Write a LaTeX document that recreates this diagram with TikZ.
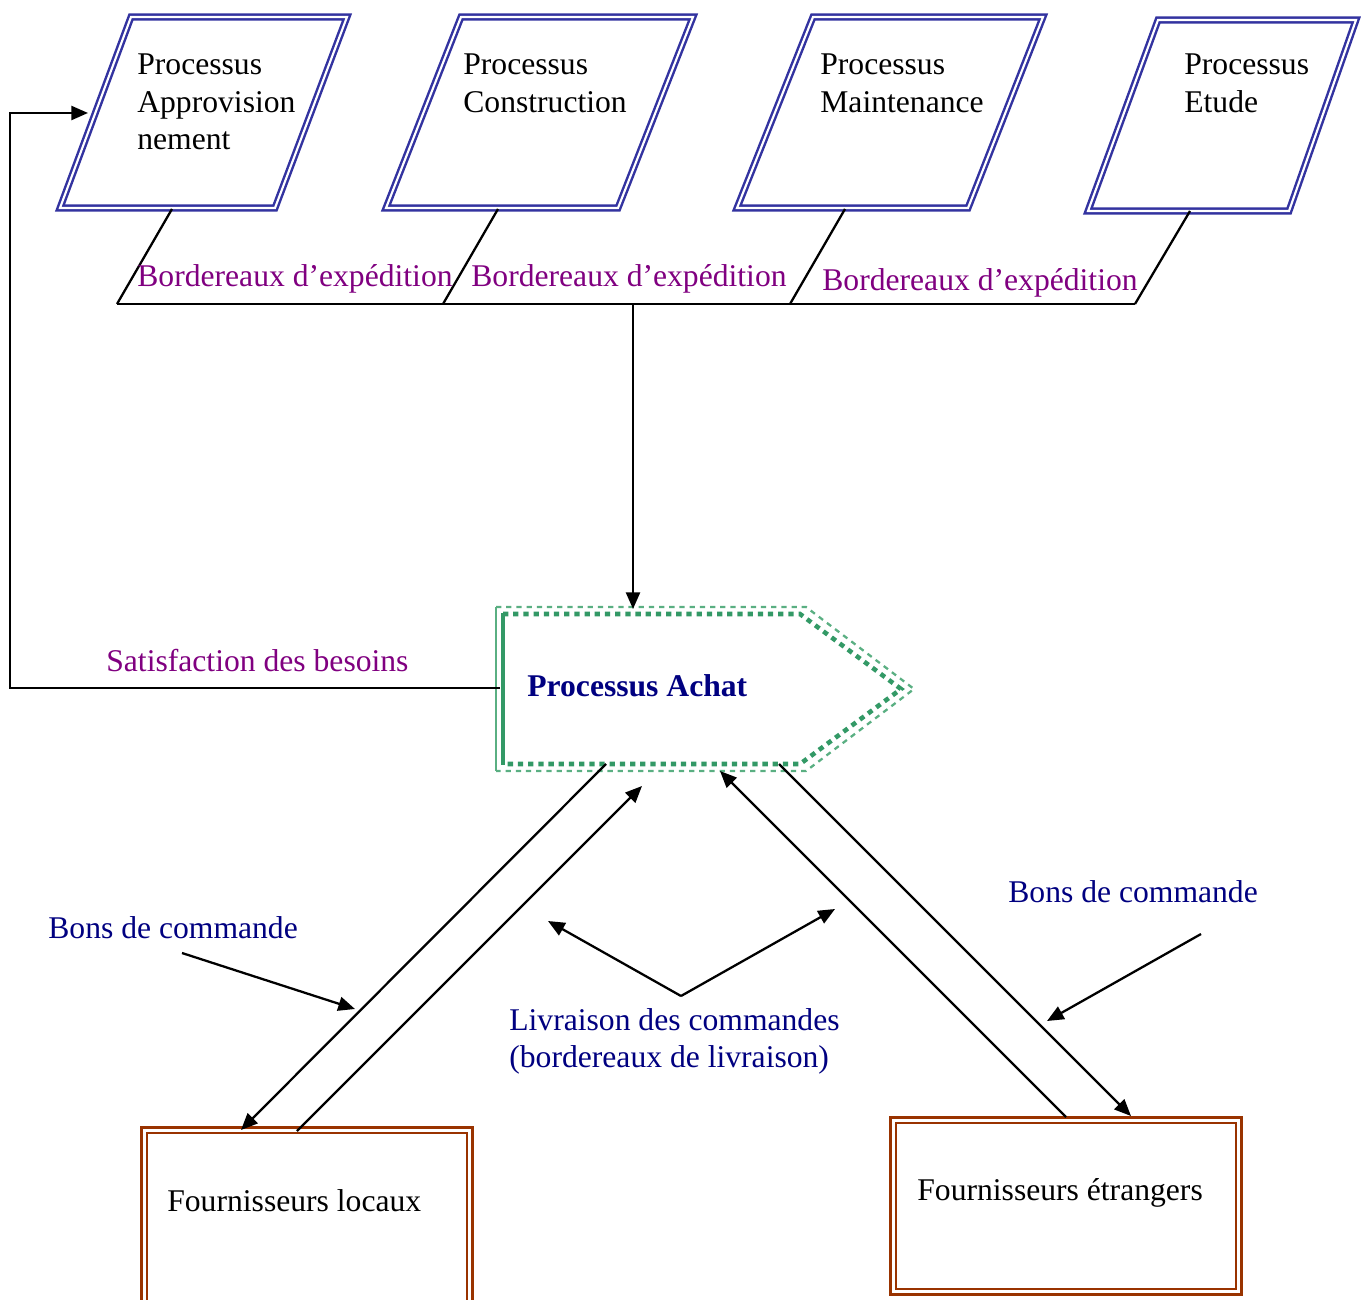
\documentclass[tikz,border=0pt]{standalone}
\usepackage{fontspec}
\setmainfont{Liberation Serif}
\usetikzlibrary{arrows.meta}
\definecolor{procblue}{RGB}{51,51,160}
\definecolor{achatgreen}{RGB}{51,153,102}
\definecolor{lightgreen}{RGB}{90,175,130}
\definecolor{suppbrown}{RGB}{153,51,0}
\definecolor{flowpurple}{RGB}{128,0,128}
\definecolor{flownavy}{RGB}{0,0,128}
\begin{document}
\begin{tikzpicture}[x=0.02cm,y=-0.02cm,
  every node/.style={inner sep=0pt, font=\fontsize{18}{21.5}\selectfont},
  txt/.style={anchor=base west},
  flowlbl/.style={anchor=base west, text=flowpurple},
  orderlbl/.style={anchor=base west, text=flownavy},
  procbox/.style={draw=procblue, double=white, line width=1.4pt, double distance=1.2pt, line join=miter},
  conn/.style={draw=black, line width=1.3pt},
  arr/.style={conn, -{Triangle[length=9.5pt,width=8pt]}},
  achatdash/.style={dash pattern=on 3pt off 2.8pt, line join=miter},
  suppouter/.style={draw=suppbrown, line width=1.9pt},
  suppinner/.style={draw=suppbrown, line width=1.2pt}]
\useasboundingbox (0,0) rectangle (1368,1300);
\clip (0,0) rectangle (1368,1300);

% --- the four upstream processes (slanted boxes) ---
\draw[procbox] (131,17) -- (347,17) -- (275,208) -- (60,208) -- cycle;
\draw[procbox] (461,17) -- (693,17) -- (618,208) -- (386,208) -- cycle;
\draw[procbox] (813,17) -- (1043,17) -- (968,208) -- (737,208) -- cycle;
\draw[procbox] (1158,20) -- (1356,20) -- (1289,211) -- (1088,211) -- cycle;

\node[txt] (appro1) at (137,75) {Processus};
\node[txt] (appro2) at (137,113) {Approvision};
\node[txt] (appro3) at (137,150) {nement};
\node[txt] (constr1) at (463,75) {Processus};
\node[txt] (constr2) at (463,113) {Construction};
\node[txt] (maint1) at (820,75) {Processus};
\node[txt] (maint2) at (820,113) {Maintenance};
\node[txt] (etude1) at (1184,75) {Processus};
\node[txt] (etude2) at (1184,113) {Etude};

% exits of the processes and the collecting line
\coordinate (b1) at (172,209);
\coordinate (b2) at (498,209);
\coordinate (b3) at (845,209);
\coordinate (b4) at (1190,211);
\coordinate (k1) at (117,304);
\coordinate (k2) at (443,304);
\coordinate (k3) at (790,304);
\coordinate (k4) at (1135,304);
\coordinate (kmid) at (633,304);
\draw[conn] (b1) -- (k1);
\draw[conn] (b2) -- (k2);
\draw[conn] (b3) -- (k3);
\draw[conn] (b4) -- (k4);
\draw[conn] (k1) -- (k4);

\node[flowlbl] (bord1) at (137,287) {Bordereaux d’expédition};
\node[flowlbl] (bord2) at (471,287) {Bordereaux d’expédition};
\node[flowlbl] (bord3) at (822,291) {Bordereaux d’expédition};

% --- purchasing process (pointed box) ---
\draw[lightgreen, line width=1.3pt, achatdash] (496,607) -- (806,607) -- (914,689) -- (806,771) -- (496,771);
\draw[achatgreen, line width=2.6pt, achatdash] (503,614) -- (800,614) -- (901,689) -- (800,764) -- (503,764);
\draw[lightgreen, line width=0.8pt] (496,607) -- (496,771);
\draw[achatgreen, line width=2.6pt] (503,613) -- (503,765);
\node[anchor=base west, text=flownavy, font=\fontsize{18}{21.5}\selectfont\bfseries] (achat) at (527,696) {Processus Achat};
\coordinate (achattop) at (633,609);
\coordinate (achatleft) at (500,688);

\draw[arr] (kmid) -- (achattop);

% feedback to the supply process
\coordinate (fbcorner1) at (10,688);
\coordinate (fbcorner2) at (10,113);
\coordinate (approin) at (88,113);
\draw[arr] (achatleft) -- (fbcorner1) -- (fbcorner2) -- (approin);
\node[flowlbl] (satisf) at (106,671) {Satisfaction des besoins};

% --- suppliers ---
\draw[suppouter] (141.5,1127.5) rectangle (472.5,1330);
\draw[suppinner] (147,1133) rectangle (467,1330);
\node[txt] (locaux) at (167,1211) {Fournisseurs locaux};

\draw[suppouter] (890.5,1117.5) rectangle (1241.5,1294.5);
\draw[suppinner] (896,1123) rectangle (1236,1289);
\node[txt] (etrangers) at (917,1200) {Fournisseurs étrangers};

% order and delivery flows
\coordinate (achatbl) at (606,764);
\coordinate (achatbin) at (642,786);
\coordinate (achatbrin) at (720,771);
\coordinate (achatbr) at (779,764);
\coordinate (loctop) at (241,1130);
\coordinate (locout) at (297,1131);
\coordinate (etrout) at (1066,1117);
\coordinate (etrtop) at (1131,1116);
\draw[arr] (achatbl) -- (loctop);
\draw[arr] (locout) -- (achatbin);
\draw[arr] (etrout) -- (achatbrin);
\draw[arr] (achatbr) -- (etrtop);

% flow labels with their pointers
\node[orderlbl] (bonsg) at (48,938) {Bons de commande};
\node[orderlbl] (bonsd) at (1008,902) {Bons de commande};
\node[orderlbl] (livr1) at (509,1030) {Livraison des commandes};
\node[orderlbl] (livr2) at (509,1067) {(bordereaux de livraison)};

\coordinate (pg0) at (182,953);
\coordinate (pg1) at (355,1009);
\coordinate (pd0) at (1201,934);
\coordinate (pd1) at (1047,1021);
\coordinate (pl0) at (681,996);
\coordinate (pl1) at (548,921);
\coordinate (pl2) at (835,909);
\draw[arr] (pg0) -- (pg1);
\draw[arr] (pd0) -- (pd1);
\draw[arr] (pl0) -- (pl1);
\draw[arr] (pl0) -- (pl2);
\end{tikzpicture}
\end{document}
